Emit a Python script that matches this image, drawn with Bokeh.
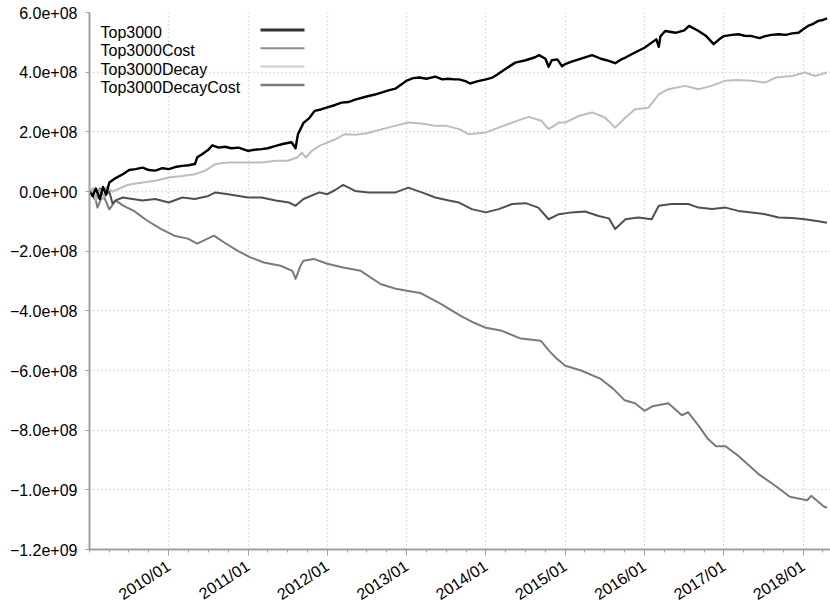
import math
import pandas as pd
from bokeh.plotting import figure
from bokeh.models import Range1d, FixedTicker, DatetimeTickFormatter, Label, BoxAnnotation
from bokeh.embed import file_html
from bokeh.resources import INLINE

# ---------------- data (values in units of 1e8, dates as decimal years) ----------------
series_names = ["Top3000", "Top3000Cost", "Top3000Decay", "Top3000DecayCost"]

top3000_t = [2009.00, 2009.04, 2009.08, 2009.13, 2009.17, 2009.21, 2009.25, 2009.33, 2009.42, 2009.50,
             2009.58, 2009.67, 2009.75, 2009.83, 2009.92, 2010.00, 2010.08, 2010.17, 2010.25, 2010.33,
             2010.36, 2010.42, 2010.50, 2010.55, 2010.63, 2010.71, 2010.79, 2010.88, 2011.00, 2011.08,
             2011.17, 2011.25, 2011.35, 2011.45, 2011.55, 2011.60, 2011.63, 2011.70, 2011.77, 2011.84,
             2011.92, 2012.00, 2012.10, 2012.18, 2012.27, 2012.35, 2012.45, 2012.52, 2012.60, 2012.69,
             2012.78, 2012.86, 2012.94, 2013.00, 2013.08, 2013.16, 2013.25, 2013.36, 2013.45, 2013.52,
             2013.60, 2013.66, 2013.74, 2013.80, 2013.90, 2014.00, 2014.08, 2014.12, 2014.24, 2014.37,
             2014.50, 2014.62, 2014.67, 2014.75, 2014.79, 2014.83, 2014.90, 2014.96, 2015.00, 2015.08,
             2015.17, 2015.34, 2015.45, 2015.52, 2015.63, 2015.70, 2015.76, 2015.88, 2016.00, 2016.09,
             2016.15, 2016.18, 2016.20, 2016.26, 2016.39, 2016.50, 2016.56, 2016.68, 2016.78, 2016.87,
             2016.94, 2017.00, 2017.10, 2017.18, 2017.26, 2017.35, 2017.45, 2017.52, 2017.60, 2017.69,
             2017.78, 2017.86, 2017.94, 2018.00, 2018.06, 2018.11, 2018.19, 2018.25, 2018.30]
top3000_v = [0.00, -0.15, 0.10, -0.25, 0.15, -0.10, 0.30, 0.45, 0.58, 0.72,
             0.75, 0.80, 0.72, 0.70, 0.78, 0.75, 0.82, 0.86, 0.88, 0.92,
             1.15, 1.25, 1.40, 1.55, 1.47, 1.50, 1.45, 1.47, 1.36, 1.40,
             1.42, 1.45, 1.53, 1.60, 1.65, 1.45, 1.92, 2.30, 2.45, 2.70,
             2.75, 2.82, 2.90, 2.98, 3.00, 3.08, 3.15, 3.20, 3.25, 3.32,
             3.40, 3.45, 3.60, 3.72, 3.80, 3.82, 3.78, 3.85, 3.76, 3.78,
             3.76, 3.76, 3.70, 3.62, 3.70, 3.76, 3.82, 3.88, 4.10, 4.32,
             4.40, 4.50, 4.57, 4.45, 4.18, 4.40, 4.43, 4.20, 4.27, 4.35,
             4.43, 4.57, 4.45, 4.40, 4.30, 4.42, 4.49, 4.66, 4.82, 4.99,
             5.10, 4.85, 5.20, 5.38, 5.32, 5.40, 5.55, 5.38, 5.20, 4.94,
             5.10, 5.21, 5.25, 5.27, 5.22, 5.21, 5.14, 5.21, 5.25, 5.27,
             5.25, 5.30, 5.32, 5.44, 5.55, 5.60, 5.72, 5.75, 5.80]

cost_t = [2009.00, 2009.04, 2009.08, 2009.10, 2009.17, 2009.25, 2009.33, 2009.43, 2009.56, 2009.73,
          2009.90, 2010.07, 2010.24, 2010.36, 2010.49, 2010.57, 2010.70, 2010.87, 2011.03, 2011.20,
          2011.41, 2011.56, 2011.60, 2011.66, 2011.70, 2011.83, 2012.00, 2012.20, 2012.42, 2012.67,
          2012.85, 2013.00, 2013.17, 2013.43, 2013.68, 2013.85, 2014.00, 2014.20, 2014.44, 2014.69,
          2014.80, 2014.88, 2015.00, 2015.20, 2015.44, 2015.60, 2015.75, 2015.88, 2016.00, 2016.10,
          2016.30, 2016.47, 2016.55, 2016.68, 2016.80, 2016.90, 2017.02, 2017.19, 2017.45, 2017.66,
          2017.83, 2018.05, 2018.10, 2018.26, 2018.30]
cost_v = [-0.08, 0.10, -0.30, -0.54, -0.10, -0.60, -0.30, -0.48, -0.65, -0.98,
          -1.25, -1.48, -1.58, -1.75, -1.58, -1.48, -1.71, -1.99, -2.21, -2.38,
          -2.49, -2.66, -2.93, -2.50, -2.32, -2.26, -2.42, -2.55, -2.66, -3.10,
          -3.25, -3.33, -3.40, -3.77, -4.17, -4.40, -4.57, -4.67, -4.93, -5.00,
          -5.35, -5.57, -5.84, -6.00, -6.27, -6.60, -7.00, -7.10, -7.35, -7.20,
          -7.10, -7.50, -7.40, -7.85, -8.30, -8.54, -8.54, -8.88, -9.50, -9.89,
          -10.23, -10.35, -10.20, -10.56, -10.60]

decay_t = [2009.00, 2009.04, 2009.08, 2009.13, 2009.17, 2009.21, 2009.29, 2009.38, 2009.46, 2009.54,
           2009.67, 2009.83, 2010.00, 2010.17, 2010.33, 2010.46, 2010.59, 2010.75, 2011.00, 2011.17,
           2011.35, 2011.50, 2011.62, 2011.68, 2011.73, 2011.80, 2011.90, 2012.00, 2012.10, 2012.22,
           2012.35, 2012.50, 2012.69, 2012.85, 2013.02, 2013.19, 2013.36, 2013.50, 2013.66, 2013.78,
           2013.90, 2014.00, 2014.16, 2014.33, 2014.54, 2014.70, 2014.79, 2014.92, 2015.00, 2015.17,
           2015.34, 2015.50, 2015.63, 2015.76, 2015.88, 2016.05, 2016.18, 2016.30, 2016.51, 2016.68,
           2016.84, 2017.01, 2017.18, 2017.35, 2017.52, 2017.65, 2017.86, 2018.02, 2018.15, 2018.30]
decay_v = [-0.10, 0.10, -0.30, 0.05, -0.25, 0.15, 0.00, 0.10, 0.20, 0.25,
           0.30, 0.36, 0.47, 0.52, 0.58, 0.70, 0.92, 0.97, 0.97, 0.97,
           1.03, 1.03, 1.14, 1.30, 1.14, 1.35, 1.53, 1.64, 1.75, 1.92,
           1.90, 1.95, 2.09, 2.20, 2.31, 2.28, 2.20, 2.20, 2.09, 1.92,
           1.95, 1.98, 2.14, 2.31, 2.50, 2.37, 2.09, 2.31, 2.31, 2.53,
           2.65, 2.48, 2.14, 2.48, 2.76, 2.81, 3.26, 3.43, 3.54, 3.43,
           3.54, 3.71, 3.74, 3.71, 3.65, 3.82, 3.87, 3.99, 3.87, 3.99]

decaycost_t = [2009.00, 2009.04, 2009.08, 2009.13, 2009.17, 2009.25, 2009.29, 2009.33, 2009.42, 2009.54,
               2009.67, 2009.83, 2010.00, 2010.17, 2010.33, 2010.50, 2010.59, 2010.75, 2011.00, 2011.17,
               2011.35, 2011.52, 2011.60, 2011.70, 2011.90, 2012.00, 2012.10, 2012.20, 2012.35, 2012.52,
               2012.69, 2012.86, 2013.02, 2013.19, 2013.36, 2013.53, 2013.66, 2013.82, 2014.00, 2014.16,
               2014.33, 2014.50, 2014.66, 2014.79, 2014.92, 2015.08, 2015.25, 2015.42, 2015.55, 2015.63,
               2015.76, 2015.92, 2016.09, 2016.18, 2016.34, 2016.55, 2016.68, 2016.85, 2017.02, 2017.18,
               2017.35, 2017.52, 2017.69, 2017.86, 2018.02, 2018.19, 2018.30]
decaycost_v = [0.00, -0.15, -0.30, 0.10, -0.20, 0.00, -0.40, -0.30, -0.20, -0.25,
               -0.30, -0.25, -0.37, -0.20, -0.25, -0.15, -0.03, -0.09, -0.20, -0.20,
               -0.30, -0.37, -0.48, -0.25, -0.03, -0.09, 0.05, 0.22, 0.02, -0.03,
               -0.03, -0.03, 0.13, -0.03, -0.20, -0.30, -0.37, -0.59, -0.70, -0.59,
               -0.42, -0.39, -0.54, -0.93, -0.76, -0.70, -0.67, -0.82, -0.90, -1.26,
               -0.93, -0.87, -0.93, -0.48, -0.42, -0.42, -0.54, -0.59, -0.54, -0.65,
               -0.70, -0.76, -0.87, -0.89, -0.93, -1.00, -1.05]

y_ticks = [600000000, 400000000, 200000000, 0, -200000000, -400000000,
           -600000000, -800000000, -1000000000, -1200000000]
y_tick_labels = ["6.0e+08", "4.0e+08", "2.0e+08", "0.0e+00", "\u22122.0e+08", "\u22124.0e+08",
                 "\u22126.0e+08", "\u22128.0e+08", "\u22121.0e+09", "\u22121.2e+09"]
x_tick_years = [2010, 2011, 2012, 2013, 2014, 2015, 2016, 2017, 2018]

# ---------------- helpers ----------------
def to_dt(y):
    yr = int(math.floor(y))
    start = pd.Timestamp(year=yr, month=1, day=1)
    end = pd.Timestamp(year=yr + 1, month=1, day=1)
    return start + (end - start) * (y - yr)

def ms(ts):
    return ts.value / 1e6

SCALE = 1e8

x_start = to_dt(2009.0)
x_end = to_dt(2018.344)

FONT = "Liberation Sans"
FS = "16px"
FRAME_W = 741
FRAME_H = 537

p = figure(frame_width=FRAME_W, frame_height=FRAME_H, x_axis_type="datetime",
           x_range=Range1d(x_start, x_end), y_range=Range1d(-1.2e9, 6.0e8),
           output_backend="svg", toolbar_location=None,
           min_border_left=89, min_border_right=0, min_border_top=12, min_border_bottom=57)
p.outline_line_color = None
p.background_fill_color = "white"
p.border_fill_color = "white"

colors = {"Top3000": "#000000", "Top3000Cost": "#7a7a7a",
          "Top3000Decay": "#bdbdbd", "Top3000DecayCost": "#505050"}
widths = {"Top3000": 2.4, "Top3000Cost": 2.0, "Top3000Decay": 2.0, "Top3000DecayCost": 2.0}

data = {
    "Top3000": (top3000_t, top3000_v),
    "Top3000Cost": (cost_t, cost_v),
    "Top3000Decay": (decay_t, decay_v),
    "Top3000DecayCost": (decaycost_t, decaycost_v),
}
for name in ["Top3000Cost", "Top3000DecayCost", "Top3000Decay", "Top3000"]:
    t, v = data[name]
    p.line([to_dt(a) for a in t], [b * SCALE for b in v],
           line_color=colors[name], line_width=widths[name], line_join="round")

# axes
p.xaxis.ticker = FixedTicker(
    ticks=[ms(pd.Timestamp(year=y, month=1, day=1)) for y in x_tick_years],
    minor_ticks=[ms(pd.Timestamp(year=y, month=m, day=1)) for y in range(2009, 2019) for m in (1, 4, 7, 10)])
fmt = "%Y/%m"
p.xaxis.formatter = DatetimeTickFormatter(microseconds=fmt, milliseconds=fmt, seconds=fmt, minsec=fmt,
                                          minutes=fmt, hourmin=fmt, hours=fmt, days=fmt, months=fmt, years=fmt)
p.xaxis.major_label_orientation = math.radians(33)
p.yaxis.ticker = FixedTicker(ticks=y_ticks)
p.yaxis.major_label_overrides = {t: l for t, l in zip(y_ticks, y_tick_labels)}

for ax in [p.xaxis[0], p.yaxis[0]]:
    ax.axis_line_color = "#a0a0a0"
    ax.axis_line_width = 2
    ax.major_tick_line_color = "#a0a0a0"
    ax.minor_tick_line_color = "#a0a0a0"
    ax.major_label_text_font = FONT
    ax.major_label_text_font_size = FS
    ax.major_label_text_color = "black"
p.xaxis.major_tick_in = 0
p.xaxis.major_tick_out = 6
p.xaxis.minor_tick_in = 0
p.xaxis.minor_tick_out = 3
p.xaxis.major_label_standoff = 9
p.yaxis.major_tick_in = 0
p.yaxis.major_tick_out = 4
p.yaxis.minor_tick_line_color = None
p.yaxis.major_label_standoff = 8

for g in [p.xgrid[0], p.ygrid[0]]:
    g.grid_line_color = "#c4c4c4"
    g.grid_line_dash = "1 3"
    g.grid_line_width = 1.5

# manual legend (labels left, line samples right), positioned relative to the frame
legend_colors = {"Top3000": "#333333", "Top3000Cost": "#8c8c8c",
                 "Top3000Decay": "#cccccc", "Top3000DecayCost": "#7a7a7a"}
legend_widths = {"Top3000": 3, "Top3000Cost": 2, "Top3000Decay": 2, "Top3000DecayCost": 2.5}
for i, name in enumerate(series_names):
    ty = FRAME_H - (20 + 18.3 * i)
    p.add_layout(Label(x=11, y=ty, x_units="screen", y_units="screen", text=name,
                       text_font=FONT, text_font_size=FS, text_baseline="middle",
                       text_align="left", text_color="black"))
    ly = FRAME_H - (17.5 + 18.3 * i)
    hw = legend_widths[name] / 2
    p.add_layout(BoxAnnotation(left=171, right=215, bottom=ly - hw, top=ly + hw,
                               left_units="screen", right_units="screen",
                               bottom_units="screen", top_units="screen",
                               fill_color=legend_colors[name], fill_alpha=1.0,
                               line_color=None))

open("out.html", "w").write(file_html(p, INLINE))
